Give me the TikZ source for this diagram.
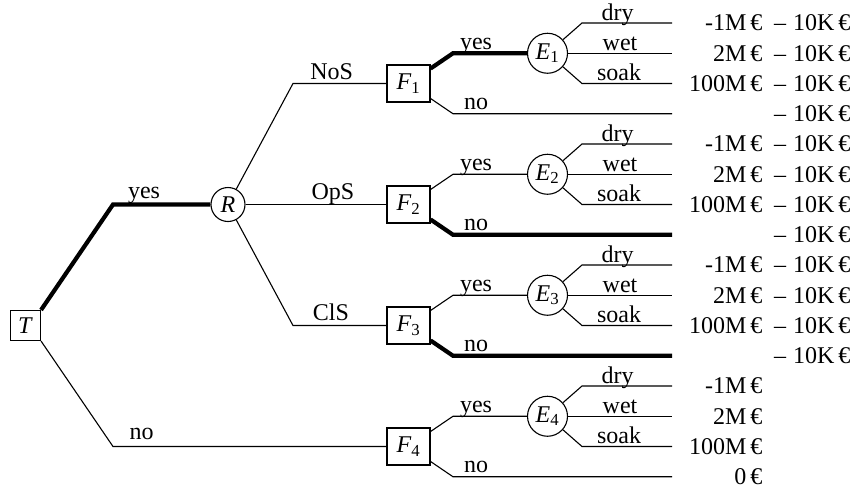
\documentclass[tikz,border=0pt]{standalone}
\usepackage{fontspec}
\setmainfont{Liberation Serif}
\tikzset{
  decision/.style={draw, rectangle, line width=1.1pt, minimum width=43pt, minimum height=37pt, inner sep=0pt},
  rootbox/.style={draw, rectangle, line width=1.1pt, minimum width=30pt, minimum height=30pt, inner sep=0pt},
  chance/.style={draw, circle, line width=1.1pt, minimum size=40pt, inner sep=0pt},
  lbl/.style={anchor=base, inner sep=0pt},
  val/.style={anchor=east, inner sep=0pt},
  best/.style={line width=4.2pt}
}
\begin{document}
\begin{tikzpicture}[x=1pt, y=-1pt, line width=1.1pt, font=\fontsize{24}{29}\selectfont]
		\useasboundingbox (0,0) rectangle (857,491);
		\coordinate (end) at (672,0);
		
		\node[rootbox] (T) at (25.5,325.5) {\textit{T}};
		\node[chance, minimum size=34pt] (R) at (228,204.5) {\textit{R}};
		\node[decision] (F1) at (408.5,83.5) {\textit{F}\textsubscript{1}};
		\node[decision] (F2) at (408.5,204.5) {\textit{F}\textsubscript{2}};
		\node[decision] (F3) at (408.5,325.5) {\textit{F}\textsubscript{3}};
		\node[decision] (F4) at (408.5,446.5) {\textit{F}\textsubscript{4}};
		\node[chance] (E1) at (547.5,53.25) {\textit{E}\textsubscript{1}};
		\node[chance] (E2) at (547.5,174.25) {\textit{E}\textsubscript{2}};
		\node[chance] (E3) at (547.5,295.25) {\textit{E}\textsubscript{3}};
		\node[chance] (E4) at (547.5,416.25) {\textit{E}\textsubscript{4}};
		
		% test
		\coordinate (Ty) at (113,204.5);
		\coordinate (Tn) at (113,446.5);
		\draw[best] (T.north east) -- (Ty) -- (R);
		\draw (T.south east) -- (Tn) -- (F4);
		\node[lbl] (Tyes) at (144,198.5) {yes};
		\node[lbl] (Tno) at (141.5,439.5) {no};
		
		% report
		\coordinate (R1) at (293,83.5);
		\coordinate (R3) at (293,325.5);
		\draw (R) -- (R1) -- (F1);
		\draw (R) -- (F2);
		\draw (R) -- (R3) -- (F3);
		\node[lbl] (NoS) at (331.7,79.5) {NoS};
		\node[lbl] (OpS) at (333,199.5) {OpS};
		\node[lbl] (ClS) at (331,320.5) {ClS};
		
		% fix or not
		\coordinate (F1y) at (453,53.25);
		\coordinate (F1n) at (453,113.75);
		\draw[best] (F1) -- (F1y) -- (E1);
		\draw (F1) -- (F1n) -- (F1n -| end);
		\node[lbl] (F1yes) at (476,49.75) {yes};
		\node[lbl] (F1no) at (476,109.75) {no};
		
		\coordinate (F2y) at (453,174.25);
		\coordinate (F2n) at (453,234.75);
		\draw (F2) -- (F2y) -- (E2);
		\draw[best] (F2) -- (F2n) -- (F2n -| end);
		\node[lbl] (F2yes) at (476,170.75) {yes};
		\node[lbl] (F2no) at (476,230.75) {no};
		
		\coordinate (F3y) at (453,295.25);
		\coordinate (F3n) at (453,355.75);
		\draw (F3) -- (F3y) -- (E3);
		\draw[best] (F3) -- (F3n) -- (F3n -| end);
		\node[lbl] (F3yes) at (476,291.75) {yes};
		\node[lbl] (F3no) at (476,351.75) {no};
		
		\coordinate (F4y) at (453,416.25);
		\coordinate (F4n) at (453,476.75);
		\draw (F4) -- (F4y) -- (E4);
		\draw (F4) -- (F4n) -- (F4n -| end);
		\node[lbl] (F4yes) at (476,412.75) {yes};
		\node[lbl] (F4no) at (476,472.75) {no};
		
		% weather
		\coordinate (E1d) at (582,23);
		\coordinate (E1s) at (582,83.5);
		\draw (E1) -- (E1d) -- (E1d -| end);
		\draw (E1) -- (E1 -| end);
		\draw (E1) -- (E1s) -- (E1s -| end);
		\node[lbl] (E1dry) at (617.5,20) {dry};
		\node[lbl] (E1wet) at (620,50.75) {wet};
		\node[lbl] (E1soak) at (619,80.5) {soak};
		
		\coordinate (E2d) at (582,144);
		\coordinate (E2s) at (582,204.5);
		\draw (E2) -- (E2d) -- (E2d -| end);
		\draw (E2) -- (E2 -| end);
		\draw (E2) -- (E2s) -- (E2s -| end);
		\node[lbl] (E2dry) at (617.5,141) {dry};
		\node[lbl] (E2wet) at (620,171.75) {wet};
		\node[lbl] (E2soak) at (619,201.5) {soak};
		
		\coordinate (E3d) at (582,265);
		\coordinate (E3s) at (582,325.5);
		\draw (E3) -- (E3d) -- (E3d -| end);
		\draw (E3) -- (E3 -| end);
		\draw (E3) -- (E3s) -- (E3s -| end);
		\node[lbl] (E3dry) at (617.5,262) {dry};
		\node[lbl] (E3wet) at (620,292.75) {wet};
		\node[lbl] (E3soak) at (619,322.5) {soak};
		
		\coordinate (E4d) at (582,386);
		\coordinate (E4s) at (582,446.5);
		\draw (E4) -- (E4d) -- (E4d -| end);
		\draw (E4) -- (E4 -| end);
		\draw (E4) -- (E4s) -- (E4s -| end);
		\node[lbl] (E4dry) at (617.5,383) {dry};
		\node[lbl] (E4wet) at (620,413.75) {wet};
		\node[lbl] (E4soak) at (619,443.5) {soak};
		
		% payoffs
		\node[val] (p1) at (763,23) {-1M\,€};
		\node[val] (p2) at (763,53.25) {2M\,€};
		\node[val] (p3) at (763,83.5) {100M\,€};
		\node[val] (p5) at (763,144) {-1M\,€};
		\node[val] (p6) at (763,174.25) {2M\,€};
		\node[val] (p7) at (763,204.5) {100M\,€};
		\node[val] (p9) at (763,265) {-1M\,€};
		\node[val] (p10) at (763,295.25) {2M\,€};
		\node[val] (p11) at (763,325.5) {100M\,€};
		\node[val] (p13) at (763,386) {-1M\,€};
		\node[val] (p14) at (763,416.25) {2M\,€};
		\node[val] (p15) at (763,446.5) {100M\,€};
		\node[val] (p16) at (763,476.75) {0\,€};
		
		\node[val] (c1) at (851,23) {–\hspace{7pt}10K\,€};
		\node[val] (c2) at (851,53.25) {–\hspace{7pt}10K\,€};
		\node[val] (c3) at (851,83.5) {–\hspace{7pt}10K\,€};
		\node[val] (c4) at (851,113.75) {–\hspace{7pt}10K\,€};
		\node[val] (c5) at (851,144) {–\hspace{7pt}10K\,€};
		\node[val] (c6) at (851,174.25) {–\hspace{7pt}10K\,€};
		\node[val] (c7) at (851,204.5) {–\hspace{7pt}10K\,€};
		\node[val] (c8) at (851,234.75) {–\hspace{7pt}10K\,€};
		\node[val] (c9) at (851,265) {–\hspace{7pt}10K\,€};
		\node[val] (c10) at (851,295.25) {–\hspace{7pt}10K\,€};
		\node[val] (c11) at (851,325.5) {–\hspace{7pt}10K\,€};
		\node[val] (c12) at (851,355.75) {–\hspace{7pt}10K\,€};
		\end{tikzpicture}
\end{document}
